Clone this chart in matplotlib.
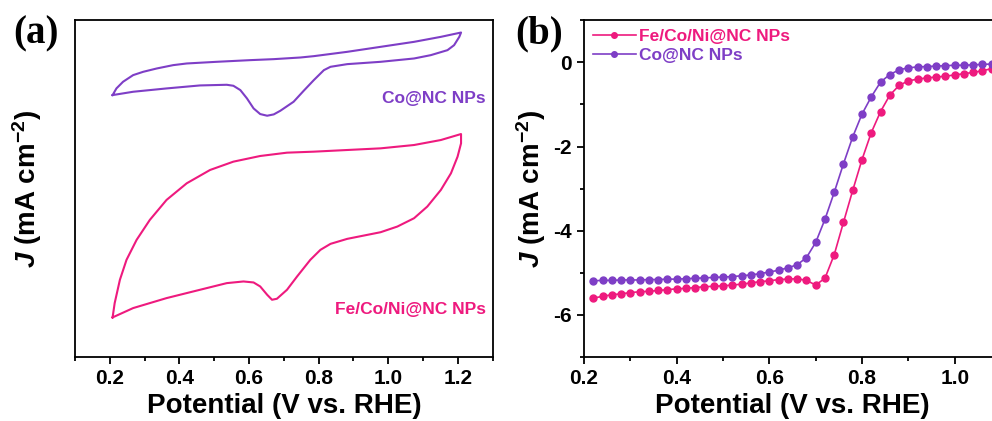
import numpy as np
import matplotlib.pyplot as plt
from matplotlib.ticker import MultipleLocator

plt.rcParams['font.family'] = ['Liberation Sans', 'DejaVu Sans']
plt.rcParams['font.weight'] = 'bold'
plt.rcParams['axes.unicode_minus'] = False
plt.rcParams['mathtext.fontset'] = 'custom'
plt.rcParams['mathtext.rm'] = 'Liberation Sans:bold'
plt.rcParams['mathtext.it'] = 'Liberation Sans:bold:italic'
plt.rcParams['mathtext.bf'] = 'Liberation Sans:bold'

PINK = '#EE1A7E'
PURPLE = '#7E3EC6'

# (a) CV loops, arbitrary current units (no y scale shown)
co_cv_x = [0.208, 0.219, 0.238, 0.267, 0.296, 0.335, 0.382, 0.421, 0.507, 0.603,
           0.671, 0.748, 0.786, 0.882, 0.978, 1.074, 1.151, 1.209,
           1.204, 1.189, 1.170, 1.122, 1.074, 0.978, 0.882, 0.834, 0.815, 0.786,
           0.757, 0.728, 0.690, 0.671, 0.652, 0.632, 0.613, 0.594, 0.575, 0.555,
           0.536, 0.459, 0.363, 0.267, 0.208]
co_cv_j = [2.75, 2.95, 3.15, 3.35, 3.45, 3.55, 3.65, 3.70, 3.75, 3.80,
           3.83, 3.88, 3.92, 4.05, 4.20, 4.35, 4.50, 4.63,
           4.50, 4.25, 4.10, 3.95, 3.85, 3.75, 3.68, 3.60, 3.50, 3.20,
           2.88, 2.55, 2.28, 2.17, 2.13, 2.18, 2.35, 2.65, 2.90, 3.03,
           3.06, 3.04, 2.95, 2.85, 2.75]

fcn_cv_x = [0.208, 0.214, 0.229, 0.248, 0.277, 0.315, 0.363, 0.421, 0.488, 0.555,
            0.632, 0.709, 0.786, 0.882, 0.978, 1.074, 1.151, 1.209,
            1.209, 1.199, 1.180, 1.151, 1.112, 1.074, 1.026, 0.978, 0.882, 0.834,
            0.805, 0.776, 0.738, 0.709, 0.680, 0.666, 0.652, 0.632, 0.613, 0.584,
            0.536, 0.459, 0.363, 0.267, 0.208]
fcn_cv_j = [-3.93, -3.50, -2.80, -2.20, -1.60, -1.00, -0.40, 0.10, 0.50, 0.75,
            0.92, 1.02, 1.05, 1.10, 1.15, 1.25, 1.40, 1.58,
            1.30, 0.90, 0.40, -0.10, -0.60, -0.95, -1.20, -1.37, -1.57, -1.72,
            -1.90, -2.20, -2.70, -3.10, -3.37, -3.40, -3.25, -3.00, -2.88, -2.85,
            -2.90, -3.10, -3.35, -3.65, -3.93]

# (b) LSV curves
lsv_v = [0.22, 0.24, 0.26, 0.28, 0.30, 0.32, 0.34, 0.36, 0.38, 0.40,
         0.42, 0.44, 0.46, 0.48, 0.50, 0.52, 0.54, 0.56, 0.58, 0.60,
         0.62, 0.64, 0.66, 0.68, 0.70, 0.72, 0.74, 0.76, 0.78, 0.80,
         0.82, 0.84, 0.86, 0.88, 0.90, 0.92, 0.94, 0.96, 0.98, 1.00,
         1.02, 1.04, 1.06, 1.08, 1.10]
fcn_lsv = [-5.60, -5.56, -5.52, -5.50, -5.47, -5.45, -5.44, -5.42, -5.40, -5.38,
           -5.37, -5.35, -5.33, -5.32, -5.31, -5.29, -5.27, -5.24, -5.21, -5.19,
           -5.16, -5.15, -5.14, -5.18, -5.29, -5.13, -4.57, -3.80, -3.04, -2.31,
           -1.67, -1.17, -0.78, -0.55, -0.44, -0.40, -0.37, -0.35, -0.33, -0.30,
           -0.27, -0.24, -0.20, -0.15, -0.12]
co_lsv = [-5.19, -5.18, -5.18, -5.17, -5.17, -5.17, -5.16, -5.16, -5.15, -5.15,
          -5.14, -5.13, -5.12, -5.11, -5.10, -5.09, -5.07, -5.05, -5.02, -4.98,
          -4.94, -4.88, -4.81, -4.64, -4.28, -3.73, -3.09, -2.41, -1.77, -1.23,
          -0.82, -0.47, -0.29, -0.18, -0.13, -0.11, -0.10, -0.09, -0.08, -0.07,
          -0.07, -0.06, -0.05, -0.04, -0.03]

fig = plt.figure(figsize=(9.92, 4.21), dpi=100)
ax1 = fig.add_axes([0.0756, 0.152, 0.4211, 0.8])
ax2 = fig.add_axes([0.5887, 0.152, 0.4204, 0.8])

for ax in (ax1, ax2):
    for s in ax.spines.values():
        s.set_linewidth(1.3)
    ax.tick_params(which='major', direction='out', length=5, width=1.3, labelsize=15)
    ax.tick_params(which='minor', direction='out', length=3, width=1.3)
    ax.set_xlabel('Potential (V vs. RHE)', fontsize=20, fontweight='bold', labelpad=4)

# panel a
ax1.plot(co_cv_x, co_cv_j, color=PURPLE, lw=1.5, solid_joinstyle='round')
ax1.plot(fcn_cv_x, fcn_cv_j, color=PINK, lw=1.5, solid_joinstyle='round')
ax1.set_xlim(0.1, 1.3)
ax1.set_ylim(-5.12, 5.0)
ax1.xaxis.set_major_locator(MultipleLocator(0.2))
ax1.xaxis.set_minor_locator(MultipleLocator(0.1))
ax1.set_yticks([])
ax1.set_ylabel(r'$J$ (mA cm$^{-2}$)', fontsize=20, fontweight='bold', labelpad=22)
ax1.text(1.28, 2.65, 'Co@NC NPs', color=PURPLE, fontsize=12.5, fontweight='bold',
         ha='right', va='center')
ax1.text(1.28, -3.70, 'Fe/Co/Ni@NC NPs', color=PINK, fontsize=12.5, fontweight='bold',
         ha='right', va='center')

# panel b
ax2.plot(lsv_v, fcn_lsv, '-o', color=PINK, lw=1.2, ms=5, mec=PINK,
         label='Fe/Co/Ni@NC NPs')
ax2.plot(lsv_v, co_lsv, '-o', color=PURPLE, lw=1.2, ms=5, mec=PURPLE,
         label='Co@NC NPs')
ax2.set_xlim(0.2, 1.1)
ax2.set_ylim(-7, 1)
ax2.xaxis.set_major_locator(MultipleLocator(0.2))
ax2.xaxis.set_minor_locator(MultipleLocator(0.1))
ax2.yaxis.set_major_locator(MultipleLocator(2))
ax2.yaxis.set_minor_locator(MultipleLocator(1))
ax2.set_ylabel(r'$J$ (mA cm$^{-2}$)', fontsize=20, fontweight='bold', labelpad=4)
leg = ax2.legend(loc='upper left', frameon=False, fontsize=12.5, handlelength=2.5,
                 handletextpad=0.15, labelspacing=0.2, borderaxespad=0.1,
                 bbox_to_anchor=(0.0, 1.0), markerscale=0.8)
for txt, c in zip(leg.get_texts(), [PINK, PURPLE]):
    txt.set_color(c)
    txt.set_fontweight('bold')

fig.text(0.013, 0.92, '(a)', fontsize=28, fontweight='bold',
         family=['Liberation Serif'], va='center')
fig.text(0.519, 0.92, '(b)', fontsize=28, fontweight='bold',
         family=['Liberation Serif'], va='center')

fig.savefig('out.png', dpi=100)
